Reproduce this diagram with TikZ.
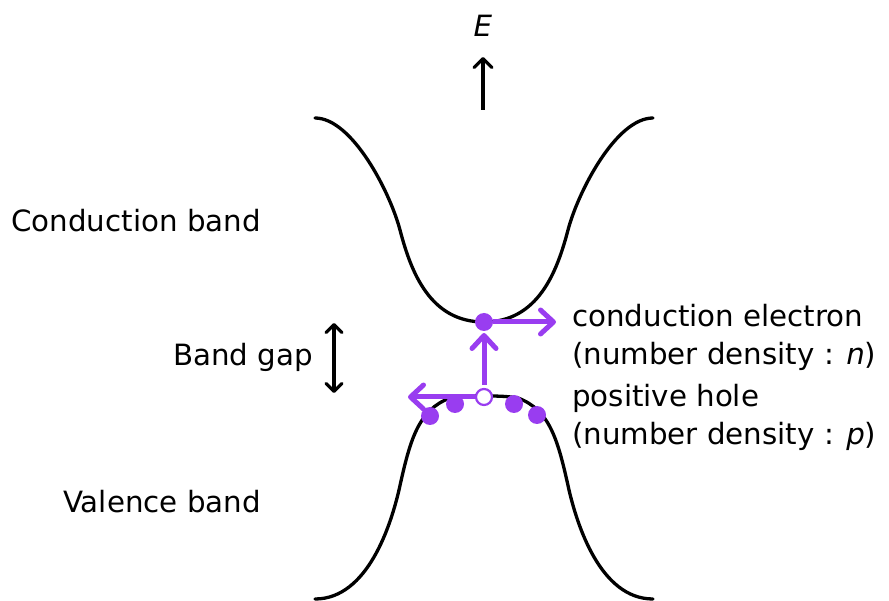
\documentclass[tikz,border=0pt]{standalone}
\usepackage{fontspec}
\setmainfont{DejaVu Sans}
\usetikzlibrary{arrows.meta}
\definecolor{carrier}{RGB}{153,61,240}
\begin{document}
\begin{tikzpicture}[x=1pt,y=-1pt,
  band/.style={line width=3.3pt,line cap=round},
  blackarrow/.style={line width=3.2pt,-{Straight Barb[length=9pt,width=18pt,line width=3.2pt,round]}},
  purplearrow/.style={line width=5pt,draw=carrier,-{Straight Barb[length=13pt,width=24pt,line width=5pt,round]}},
  electron/.style={circle,fill=carrier,minimum size=18pt,inner sep=0pt},
  hole/.style={circle,fill=white,draw=carrier,line width=2.2pt,minimum size=16pt,inner sep=0pt},
  lbl/.style={font=\fontsize{29.3}{35}\selectfont,inner sep=0pt}]
\useasboundingbox (0,0) rectangle (889,601);
% conduction band
\draw[band] (315,118) .. controls (352,118) and (390,192) .. (400,230)
  .. controls (411,272) and (430,322) .. (484,322)
  .. controls (538,322) and (557,272) .. (568,230)
  .. controls (578,192) and (616,118) .. (653,118);
% valence band
\draw[band] (315,599) .. controls (368,599) and (391,524) .. (399,490)
  .. controls (410,440) and (418,410) .. (450,398)
  .. controls (462,396) and (472,396) .. (484,396)
  .. controls (496,396) and (506,396) .. (518,398)
  .. controls (550,410) and (558,440) .. (569,490)
  .. controls (577,524) and (600,599) .. (653,599);
% energy axis
\coordinate (Ebot) at (483,110);
\coordinate (Etop) at (483,57);
\draw[blackarrow] (Ebot) -- (Etop);
\node[lbl,anchor=base] (E) at (483,37) {\textit{E}};
% band gap
\coordinate (gtop) at (334,323);
\coordinate (gbot) at (334,393);
\draw[line width=3.2pt,{Straight Barb[length=8pt,width=16pt,line width=3.2pt,round]}-{Straight Barb[length=8pt,width=16pt,line width=3.2pt,round]}] (gtop) -- (gbot);
\node[lbl,anchor=base east] (gap) at (313,366) {Band gap};
% labels
\node[lbl,anchor=base east] (cb) at (261,232) {Conduction band};
\node[lbl,anchor=base east] (vb) at (261,512) {Valence band};
\node[lbl,anchor=base west] (ce1) at (572,327) {conduction electron};
\node[lbl,anchor=base west] (ce2) at (572,365) {(number density : \textit{n})};
\node[lbl,anchor=base west] (ph1) at (572,407) {positive hole};
\node[lbl,anchor=base west] (ph2) at (572,444) {(number density : \textit{p})};
% carriers
\node[electron] (v1) at (430,416) {};
\node[electron] (v2) at (455,404) {};
\node[electron] (v3) at (514,404) {};
\node[electron] (v4) at (537,415) {};
\coordinate (etip) at (556,322);
\coordinate (ltip) at (408,397);
\coordinate (utip) at (484,333);
\node[electron] (el) at (484,322) {};
\draw[purplearrow] (el.east) -- (etip);
\node[hole] (h) at (484,397) {};
\draw[purplearrow,shorten <=3pt] (h.north) -- (utip);
\draw[purplearrow] (h.west) -- (ltip);
\end{tikzpicture}
\end{document}
